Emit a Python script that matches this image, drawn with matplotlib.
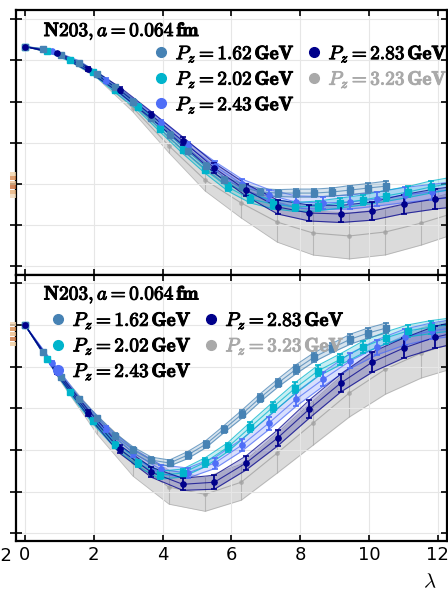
import numpy as np
import matplotlib
matplotlib.use("Agg")
from matplotlib import pyplot as plt
from matplotlib import patheffects
from matplotlib.lines import Line2D
from matplotlib.patches import Rectangle

plt.rcParams["mathtext.fontset"] = "cm"

A_FM = 0.064
HBARC = 0.1973
momenta = [1.62, 2.02, 2.43, 2.83, 3.23]
colors = ["#4682b4", "#00b4cc", "#4f6ef7", "#00008b", "#a9a9a9"]
markers = ["s", "s", "o", "o", "o"]

# real part (top panel), one entry per z = 0, 1, 2, ...
re_162 = [1.000, 0.982, 0.939, 0.881, 0.801, 0.706, 0.597, 0.480, 0.357, 0.240, 0.131,
          0.029, -0.022, -0.058, -0.066, -0.066, -0.066, -0.058, -0.044, -0.029, -0.015]
re_162_err = [0, 0.004, 0.007, 0.011, 0.015, 0.015, 0.018, 0.018, 0.022, 0.022, 0.022,
              0.022, 0.025, 0.025, 0.025, 0.029, 0.029, 0.029, 0.033, 0.033, 0.036]
re_202 = [1.000, 0.968, 0.902, 0.815, 0.684, 0.560, 0.400, 0.247, 0.102, -0.022, -0.109,
          -0.146, -0.167, -0.160, -0.138, -0.116, -0.087, -0.058, -0.022, 0.007]
re_202_err = [0, 0.007, 0.011, 0.015, 0.018, 0.022, 0.022, 0.025, 0.025, 0.029, 0.029,
              0.033, 0.033, 0.036, 0.036, 0.036, 0.040, 0.040, 0.044, 0.044]
re_243 = [1.000, 0.968, 0.881, 0.750, 0.597, 0.444, 0.277, 0.131, 0.000, -0.080, -0.131,
          -0.138, -0.131, -0.109, -0.080, -0.058, -0.036]
re_243_err = [0, 0.007, 0.015, 0.018, 0.022, 0.025, 0.029, 0.033, 0.036, 0.040, 0.044,
              0.047, 0.051, 0.051, 0.055, 0.055, 0.058]
re_283 = [1.000, 0.953, 0.837, 0.684, 0.502, 0.313, 0.116, -0.044, -0.167, -0.211, -0.218,
          -0.197, -0.146, -0.109, -0.080]
re_283_err = [0, 0.007, 0.015, 0.022, 0.025, 0.029, 0.036, 0.044, 0.051, 0.058, 0.062,
              0.066, 0.069, 0.073, 0.076]
re_323 = [1.000, 0.939, 0.786, 0.553, 0.277, 0.029, -0.138, -0.277, -0.357, -0.378, -0.349,
          -0.284, -0.204]
re_323_err = [0, 0.007, 0.015, 0.029, 0.051, 0.080, 0.109, 0.146, 0.160, 0.167, 0.167,
              0.160, 0.153]

# imaginary part (bottom panel)
im_162 = [0, -0.065, -0.125, -0.178, -0.223, -0.266, -0.300, -0.324, -0.331, -0.312, -0.286,
          -0.250, -0.214, -0.175, -0.139, -0.106, -0.077, -0.055, -0.034, -0.019, -0.007]
im_162_err = [0, 0.0024, 0.0036, 0.0048, 0.006, 0.006, 0.0072, 0.0072, 0.0072, 0.0084, 0.0084,
              0.0084, 0.0096, 0.0096, 0.0096, 0.0108, 0.0108, 0.0108, 0.012, 0.012, 0.012]
im_202 = [0, -0.082, -0.161, -0.230, -0.288, -0.331, -0.360, -0.355, -0.329, -0.293, -0.245,
          -0.197, -0.151, -0.110, -0.082, -0.053, -0.031, -0.014, -0.005, 0.002]
im_202_err = [0, 0.0024, 0.0048, 0.006, 0.0072, 0.0084, 0.0096, 0.0096, 0.0108, 0.0108, 0.012,
              0.012, 0.0132, 0.0132, 0.0132, 0.0144, 0.0144, 0.0144, 0.0156, 0.0156]
im_243 = [0, -0.091, -0.178, -0.250, -0.307, -0.346, -0.355, -0.331, -0.288, -0.235, -0.178,
          -0.130, -0.086, -0.053, -0.029, -0.014, -0.005]
im_243_err = [0, 0.0036, 0.006, 0.0072, 0.0096, 0.0108, 0.012, 0.0132, 0.0144, 0.0156, 0.0168,
              0.0168, 0.018, 0.018, 0.0192, 0.0192, 0.0204]
im_283 = [0, -0.113, -0.211, -0.298, -0.353, -0.382, -0.377, -0.331, -0.271, -0.202, -0.139,
          -0.089, -0.055, -0.029, -0.012]
im_283_err = [0, 0.0048, 0.0072, 0.0096, 0.012, 0.0144, 0.0168, 0.0168, 0.0192, 0.0216, 0.0216,
              0.024, 0.024, 0.0264, 0.0264]
im_323 = [0, -0.127, -0.240, -0.329, -0.389, -0.406, -0.377, -0.307, -0.235, -0.163, -0.106,
          -0.067, -0.041]
im_323_err = [0, 0.0096, 0.0216, 0.0336, 0.0408, 0.0408, 0.0432, 0.048, 0.0528, 0.0576, 0.06,
              0.06, 0.06]

re_data = [(re_162, re_162_err), (re_202, re_202_err), (re_243, re_243_err),
           (re_283, re_283_err), (re_323, re_323_err)]
im_data = [(im_162, im_162_err), (im_202, im_202_err), (im_243, im_243_err),
           (im_283, im_283_err), (im_323, im_323_err)]
draw_order = [4, 2, 1, 0, 3]


def draw_series(ax, lam, y, e, c, mk, gray):
    lo, hi = y - e, y + e
    if gray:
        ax.fill_between(lam, lo, hi, color="#d0d0d0", alpha=0.75, lw=0, zorder=1)
        for line in (lo, hi):
            ax.plot(lam, line, color="#9a9a9a", lw=0.6, alpha=0.6, zorder=1.2)
        ax.plot(lam, y, color="#9a9a9a", lw=0.8, alpha=0.7, zorder=1.2)
        ax.errorbar(lam, y, e, fmt="o", color="#a0a0a0", ms=2.5, elinewidth=0.8,
                    capsize=0, alpha=0.6, zorder=1.3)
    else:
        ax.fill_between(lam, lo, hi, color=c, alpha=0.22, lw=0, zorder=2)
        for line in (lo, hi):
            ax.plot(lam, line, color=c, lw=0.8, alpha=0.75, zorder=2.2)
        ax.plot(lam, y, color=c, lw=0.8, alpha=0.75, zorder=2.2)
        ax.errorbar(lam, y, e, fmt=mk, color=c, ms=3.8, elinewidth=1.3, capsize=2.5,
                    capthick=1.2, zorder=3)


fig = plt.figure(figsize=(4.48, 5.89), dpi=100)
ax_re = fig.add_axes([16 / 448, 1 - 275 / 589, 431 / 448, 265 / 589])
ax_im = fig.add_axes([16 / 448, 1 - 541 / 589, 431 / 448, 266 / 589], sharex=ax_re)

for ax, data in ((ax_re, re_data), (ax_im, im_data)):
    for i in draw_order:
        y = np.array(data[i][0])
        e = np.array(data[i][1])
        lam = np.arange(len(y)) * A_FM * momenta[i] / HBARC
        draw_series(ax, lam, y, e, colors[i], markers[i], i == 4)
    ax.grid(True, color="#e6e6e6", lw=0.8, zorder=0)
    for s in ax.spines.values():
        s.set_linewidth(1.6)
    ax.tick_params(axis="both", direction="in", length=4, width=1.2,
                   top=True, right=True, labelsize=13)
    ax.tick_params(axis="y", which="both", left=True, labelleft=False)
    ax.tick_params(axis="y", direction="inout", length=8)

ax_re.set_xlim(-0.26, 12.27)
ax_re.set_xticks(np.arange(0, 13, 2))
ax_re.tick_params(axis="x", labelbottom=False)
ax_re.set_ylim(-0.662, 1.266)
ax_re.set_yticks(np.arange(-0.6, 1.25, 0.3))
ax_im.set_ylim(-0.518, 0.12)
ax_im.set_yticks(np.arange(-0.5, 0.11, 0.1))
ax_im.set_xlabel(r"$\lambda$", fontsize=15)
ax_im.xaxis.set_label_coords(0.96, -0.115)

label_text = [r"$P_z = \mathbf{%.2f\,GeV}$" % p for p in momenta]
title_text = r"$\mathbf{N203},a = \mathbf{0.064\,fm}$"
handles = [Line2D([], [], marker="o", ls="", color=c, ms=7) for c in colors]

for ax, anchor, t_y in ((ax_re, (0.292, 0.904), 0.92), (ax_im, (0.053, 0.898), 0.926)):
    ttl = ax.text(0.246, t_y, title_text, transform=ax.transAxes,
                  fontsize=14, ha="center", va="center")
    ttl.set_path_effects([patheffects.withStroke(linewidth=0.7, foreground="black")])
    leg = ax.legend(handles, label_text, loc="upper left", bbox_to_anchor=anchor, ncol=2,
                    frameon=False, fontsize=13.9, handletextpad=0.15, columnspacing=0.4,
                    labelspacing=0.22, borderaxespad=0.0, handlelength=1.2)
    for k, txt in enumerate(leg.get_texts()):
        col = "#a9a9a9" if k == 4 else "black"
        txt.set_color(col)
        txt.set_path_effects([patheffects.withStroke(linewidth=0.7, foreground=col)])
    leg.set_zorder(5)

# pieces of the neighbouring panel that were cut by the crop
fig.text(12 / 448, 1 - 556 / 589, "12", ha="right", va="center", fontsize=13)
for y0, c in ((172, "#f2d3a8"), (176, "#d98a4e"), (181, "#f0c090"), (185, "#c96a34"),
              (190, "#e8b078"), (194, "#f3d9b8"), (322, "#f3d4ae"), (327, "#d78848"),
              (332, "#eebd8a"), (337, "#c8703a"), (342, "#f0cc9c")):
    fig.add_artist(Rectangle((10 / 448, 1 - (y0 + 4) / 589), 6 / 448, 4 / 589,
                             transform=fig.transFigure, color=c, lw=0, alpha=0.8))

plt.savefig("out.png", dpi=100)
plt.close()
